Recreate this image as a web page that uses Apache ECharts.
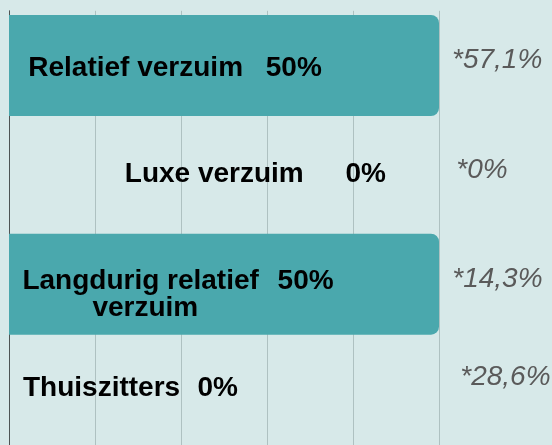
<!DOCTYPE html>
<html>
<head>
<meta charset="utf-8">
<script src="https://cdn.jsdelivr.net/npm/echarts@6/dist/echarts.min.js"></script>
<style>
  html, body { margin: 0; padding: 0; background: #d7e9e9; }
  #chart { width: 552px; height: 445px; }
</style>
</head>
<body>
<div id="chart"></div>
<script>
// ---- data ----
const categories = ['Relatief verzuim', 'Luxe verzuim', 'Langdurig relatief verzuim', 'Thuiszitters'];
const values = [50, 0, 50, 0];
const referenceValues = [57.1, 0, 14.3, 28.6];
const xMin = 0, xMax = 50, xInterval = 10;

// ---- layout (label placement, not data) ----
const labelLayout = [
  { dx: 19.3, dy: 2.5, gap: 22.7 },
  { dx: 115.8, dy: -0.5, gap: 41.7 },
  { dx: 13.4, dy: 10.5, gap: 18.7, wrapAfter: 'relatief', indent: 70, lh: 27 },
  { dx: 14, dy: -5.5, gap: 17.3 }
];
const refLayout = [
  { dx: 13, dy: -5 },
  { dx: 17.3, dy: -4.3 },
  { dx: 13.3, dy: -4.7 },
  { dx: 21.3, dy: -16 }
];

const FONT = '"Liberation Sans", Arial, Helvetica, sans-serif';
const fmtNum = v => String(v).replace('.', ',');

const rich = {};
labelLayout.forEach((L, i) => {
  const lh = L.lh || 26;
  rich['n' + i] = { fontFamily: FONT, fontSize: 28, fontWeight: 'bold', color: '#000', lineHeight: lh };
  rich['v' + i] = { fontFamily: FONT, fontSize: 28, fontWeight: 'bold', color: '#000', lineHeight: lh, padding: [0, 0, 0, L.gap] };
  rich['w' + i] = { fontFamily: FONT, fontSize: 28, fontWeight: 'bold', color: '#000', lineHeight: lh, padding: [0, 0, 0, L.indent || 0] };
});

const refRich = {};
refLayout.forEach((R, i) => {
  refRich['r' + i] = {
    fontFamily: FONT, fontSize: 28, fontStyle: 'italic', color: '#5a5a5a',
    padding: [R.dy > 0 ? 2 * R.dy : 0, 0, R.dy < 0 ? -2 * R.dy : 0, R.dx]
  };
});

const chart = echarts.init(document.getElementById('chart'), null, { renderer: 'canvas' });
chart.setOption({
  backgroundColor: '#d7e9e9',
  animation: false,
  grid: { left: 9, right: 113, top: 10.8, height: 437.4, containLabel: false, outerBoundsMode: 'none' },
  xAxis: {
    type: 'value', min: xMin, max: xMax, interval: xInterval,
    axisLabel: { show: false }, axisLine: { show: false }, axisTick: { show: false },
    splitLine: { show: true, lineStyle: { color: '#aec1c1', width: 1 } }
  },
  yAxis: [
    {
      type: 'category', data: categories, inverse: true,
      axisLine: { show: true, lineStyle: { color: '#4d5454', width: 1 } },
      axisTick: { show: false }, axisLabel: { show: false }, splitLine: { show: false }
    },
    {
      type: 'category', data: categories, inverse: true, position: 'right',
      axisLine: { show: false }, axisTick: { show: false }, splitLine: { show: false },
      axisLabel: {
        show: true, margin: 0, interval: 0, align: 'left', verticalAlign: 'middle',
        formatter: (val, idx) => '{r' + idx + '|*' + fmtNum(referenceValues[idx]) + '%}',
        rich: refRich
      }
    }
  ],
  series: [{
    type: 'bar',
    yAxisIndex: 0,
    barWidth: 101,
    itemStyle: { color: '#4aa8ad', borderRadius: [0, 8, 8, 0] },
    label: {
      show: true, align: 'left', verticalAlign: 'middle',
      formatter: p => {
        const i = p.dataIndex, L = labelLayout[i];
        const name = categories[i];
        const val = values[i] + '%';
        if (L.wrapAfter) {
          const k = name.indexOf(L.wrapAfter) + L.wrapAfter.length;
          return '{n' + i + '|' + name.slice(0, k) + '}{v' + i + '|' + val + '}\n{w' + i + '|' + name.slice(k).trim() + '}';
        }
        return '{n' + i + '|' + name + '}{v' + i + '|' + val + '}';
      },
      rich: rich
    },
    data: values.map((v, i) => ({
      value: v,
      label: { position: [labelLayout[i].dx, '50%'], offset: [0, labelLayout[i].dy] }
    }))
  }]
});
</script>
</body>
</html>
